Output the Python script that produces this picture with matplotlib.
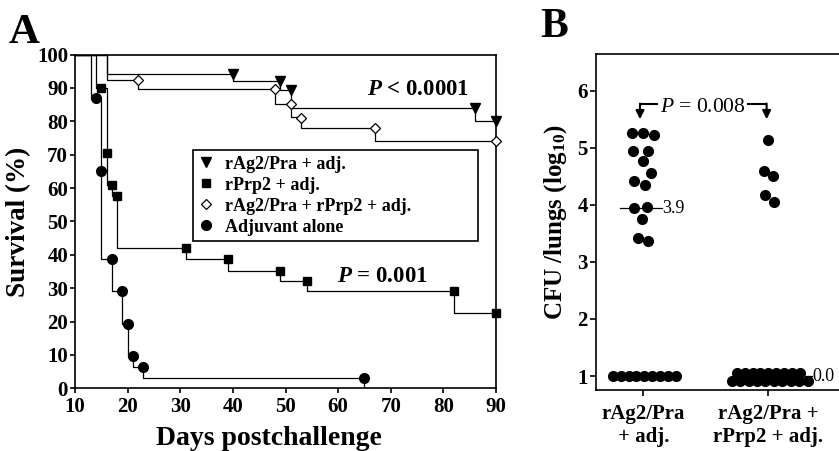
import matplotlib
matplotlib.use('Agg')
import matplotlib.pyplot as plt
from matplotlib.lines import Line2D

plt.rcParams['font.family'] = ['Liberation Serif', 'DejaVu Serif']
plt.rcParams['mathtext.fontset'] = 'custom'
plt.rcParams['mathtext.rm'] = 'Liberation Serif:bold'
plt.rcParams['mathtext.it'] = 'Liberation Serif:italic:bold'
plt.rcParams['mathtext.sf'] = 'Liberation Serif:italic'

# ---- panel A: survival curves (step curves + marker points) ----
ag_t = [10, 16, 40, 49, 51, 86, 90]
ag_s = [100, 94.3, 92, 89.5, 84, 80.2, 80.2]
ag_mx = [40, 49, 51, 86, 90]
ag_my = [94.3, 92, 89.5, 84, 80.2]

prp_t = [10, 14, 16, 17, 18, 31, 39, 49, 54, 82, 90]
prp_s = [100, 90, 61, 57.5, 42, 38.7, 35.2, 32.2, 29, 22.7, 0]
prp_mx = [15, 16, 17, 18, 31, 39, 49, 54, 82, 90]
prp_my = [90, 70.5, 61, 57.5, 42, 38.7, 35.2, 32.2, 29, 22.7]

comb_t = [10, 16, 22, 48, 51, 53, 67, 90]
comb_s = [100, 92.3, 89.8, 85.3, 81.4, 78.1, 74, 74]
comb_mx = [22, 48, 51, 53, 67, 90]
comb_my = [92.3, 89.8, 85.3, 81, 78.1, 74]

adj_t = [10, 13, 15, 17, 19, 20, 21, 23, 65]
adj_s = [100, 87, 38.6, 29, 19.4, 9.8, 6.5, 3.2, 0]
adj_mx = [14, 15, 17, 19, 20, 21, 23, 65]
adj_my = [87, 65, 38.6, 29, 19.4, 9.8, 6.5, 3.2]

legend_labels = ['rAg2/Pra + adj.', 'rPrp2 + adj.',
                 'rAg2/Pra + rPrp2 + adj.', 'Adjuvant alone']

# ---- panel B: CFU per lungs (log10) ----
b_groups = ['rAg2/Pra\n+ adj.', 'rAg2/Pra +\nrPrp2 + adj.']
g1_dx = [-0.093, 0.0, 0.086, -0.08, 0.035, -0.005, 0.059, -0.072, 0.014,
         -0.074, 0.027, -0.01, -0.04, 0.04]
g1_y = [5.26, 5.26, 5.22, 4.95, 4.95, 4.77, 4.55, 4.42, 4.34,
        3.95, 3.97, 3.76, 3.42, 3.36]
g1_low_dx = [-0.245, -0.182, -0.118, -0.055, 0.008, 0.072, 0.135, 0.199, 0.262]
g1_low_y = [1.0] * 9
g2_dx = [0.0, -0.032, 0.04, -0.026, 0.048]
g2_y = [5.14, 4.60, 4.50, 4.18, 4.05]
g2_low_dx = [-0.253, -0.19, -0.126, -0.063, 0.0, 0.063, 0.127, 0.19, 0.254,
             -0.293, -0.225, -0.158, -0.09, -0.023, 0.045, 0.113, 0.18, 0.248, 0.318]
g2_low_y = [1.06] * 9 + [0.92] * 10
medians = [3.94, 1.0]
median_txt = ['3.9', '0.0']

fig = plt.figure(figsize=(8.39, 4.51), dpi=100)

# ================= A =================
ax = fig.add_axes([75 / 839, 1 - 388.3 / 451, 421 / 839, 333.8 / 451])
lw = 0.9
ax.step(ag_t, ag_s, where='post', color='black', lw=lw)
ax.step(prp_t, prp_s, where='post', color='black', lw=lw)
ax.step(comb_t, comb_s, where='post', color='black', lw=lw)
ax.step(adj_t, adj_s, where='post', color='black', lw=lw)
ax.plot(ag_mx, ag_my, 'v', color='black', ms=7, ls='none', clip_on=False, zorder=4)
ax.plot(prp_mx, prp_my, 's', color='black', ms=5.8, ls='none', clip_on=False, zorder=4)
ax.plot(comb_mx, comb_my, 'D', mfc='white', mec='black', mew=0.9, ms=5.0, ls='none',
        clip_on=False, zorder=4)
ax.plot(adj_mx, adj_my, 'o', color='black', ms=7, ls='none', clip_on=False, zorder=4)

ax.set_xlim(10, 90)
ax.set_ylim(0, 100)
ax.set_xticks(range(10, 91, 10))
ax.set_yticks(range(0, 101, 10))
for s in ax.spines.values():
    s.set_linewidth(1.2)
ax.tick_params(direction='out', length=3.5, width=1.2, pad=1.5, labelsize=15)
ax.tick_params(axis='x', pad=2.5)
for lab in ax.get_xticklabels() + ax.get_yticklabels():
    lab.set_fontweight('bold')

ax.text(65.5, 89.6, r'$\mathit{P}$ < 0.0001', fontsize=16.5, fontweight='bold', va='center')
ax.text(59.8, 33.6, r'$\mathit{P}$ = 0.001', fontsize=16.5, fontweight='bold', va='center')

handles = [
    Line2D([], [], marker='v', color='black', ls='none', ms=7),
    Line2D([], [], marker='s', color='black', ls='none', ms=5.8),
    Line2D([], [], marker='D', mfc='white', mec='black', mew=0.9, ls='none', ms=5.0),
    Line2D([], [], marker='o', color='black', ls='none', ms=7),
]
leg = ax.legend(handles, legend_labels, loc='upper left',
                bbox_to_anchor=(0.28, 0.713, 0.677, 0.0), mode='expand',
                frameon=True, fancybox=False, edgecolor='black', framealpha=1,
                handlelength=0.8, handletextpad=0.7, labelspacing=0.22,
                borderpad=0.3, borderaxespad=0,
                prop={'family': 'Liberation Serif', 'weight': 'bold', 'size': 13})
leg.get_frame().set_linewidth(1.2)

ax.set_ylabel('Survival (%)', fontsize=19.5, fontweight='bold', labelpad=4)
fig.text(269 / 839, 1 - 445 / 451, 'Days postchallenge', fontsize=20,
         fontweight='bold', ha='center', va='baseline')
fig.text(9 / 839, 1 - 43 / 451, 'A', fontsize=31, fontweight='bold', va='baseline')

# ================= B =================
bx = fig.add_axes([596 / 839, 1 - 390 / 451, 243 / 839, 336.5 / 451])
bx.set_xlim(0.622, 2.566)
bx.set_ylim(0.755, 6.652)
bx.spines['right'].set_visible(False)
for s in ['left', 'bottom', 'top']:
    bx.spines[s].set_linewidth(1.2)

bx.plot([0.814, 1.147], [medians[0]] * 2, color='black', lw=0.9, zorder=2)
bx.text(1.152, medians[0], median_txt[0], fontsize=13, va='center', ha='left')
bx.plot([1.75, 2.35], [medians[1]] * 2, color='black', lw=0.9, zorder=2)
bx.text(2.355, medians[1], median_txt[1], fontsize=13, va='center', ha='left')

dot = dict(marker='o', color='black', ms=7, ls='none', zorder=3)
bx.plot([1 + d for d in g1_dx], g1_y, **dot)
bx.plot([1 + d for d in g1_low_dx], g1_low_y, **dot)
bx.plot([2 + d for d in g2_dx], g2_y, **dot)
bx.plot([2 + d for d in g2_low_dx], g2_low_y, **dot)

# significance bracket
yb = 5.76
bx.plot([0.974, 1.12], [yb, yb], color='black', lw=1.5, solid_capstyle='butt')
bx.plot([1.827, 1.987], [yb, yb], color='black', lw=1.5, solid_capstyle='butt')
for xa in [0.974, 1.987]:
    bx.annotate('', xy=(xa, 5.5), xytext=(xa, yb + 0.015),
                arrowprops=dict(arrowstyle='-|>,head_length=0.5,head_width=0.25',
                                color='black', lw=1.5, shrinkA=0, shrinkB=0))
bx.text(1.474, 5.71, r'$\mathsf{P}$ = 0.008', fontsize=15.5, ha='center', va='center')

bx.set_xticks([1, 2])
bx.set_xticklabels(b_groups)
bx.set_yticks(range(1, 7))
bx.tick_params(direction='out', length=4, width=1.2, pad=2, labelsize=15)
bx.tick_params(axis='x', pad=6)
for lab in bx.get_xticklabels() + bx.get_yticklabels():
    lab.set_fontweight('bold')
bx.set_ylabel('CFU /lungs (log$_{10}$)', fontsize=18, fontweight='bold', labelpad=6)
fig.text(540 / 839, 1 - 36.7 / 451, 'B', fontsize=30, fontweight='bold', va='baseline')

fig.savefig('out.png', dpi=100)
